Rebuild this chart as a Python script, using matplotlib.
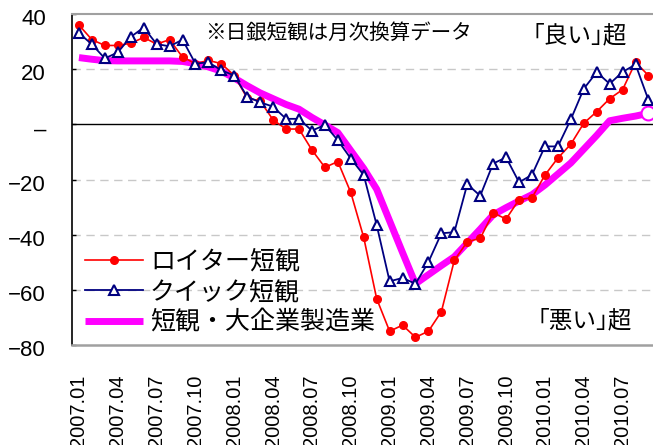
import matplotlib
matplotlib.use("Agg")
import matplotlib.pyplot as plt
from matplotlib.transforms import ScaledTranslation

plt.rcParams['font.family'] = ['Liberation Sans', 'Noto Sans CJK JP', 'DejaVu Sans']
JP = ['Noto Sans CJK JP', 'DejaVu Sans']

# monthly data, 2007.01 - 2010.09
reuters = [36, 30.7, 28.6, 28.6, 29.4, 31.5, 29.1, 30.7, 24.4, 22, 23.2, 22,
           17.7, 9.5, 8.5, 1.6, -1.7, -1.7, -9.3, -15.6, -13.5, -24.7, -41, -63.2,
           -75, -72.8, -77.2, -75, -67.9, -49.3, -42.6, -41.3, -32.1, -34.3, -27.3, -26.6,
           -18.4, -12.2, -7.2, 0.4, 4.6, 9.3, 12.6, 22.5, 17.7]
quick = [33.1, 29, 23.9, 26.1, 31.7, 35.1, 29.1, 28.3, 30.7, 22, 22.5, 19.6,
         17.7, 10, 8, 6.4, 2, 2, -2.3, -0.2, -5.8, -12.4, -18.4, -36.5,
         -56.9, -55.7, -57.8, -49.9, -39.5, -39.1, -21.7, -25.9, -14.2, -12, -21, -18.3,
         -8, -8, 1.8, 12.9, 18.9, 14.7, 19, 21.7, 8.8]
tankan = [24.2, 23.6, 23.1, 23, 23, 23, 23, 23, 22.8, 22, 20.8, 19.3,
          16.8, 14, 11.4, 9.3, 7.2, 5.5, 2.5, -0.2, -3, -9.5, -16, -23.5,
          -35, -46.5, -57.8, -54.5, -51.2, -48, -43, -38, -32.8, -30.2, -27.8, -25.5,
          -22, -18, -14, -9, -4, 1.3, 2.2, 3, 4]
month_labels = ['2007.01', '2007.04', '2007.07', '2007.10', '2008.01', '2008.04',
                '2008.07', '2008.10', '2009.01', '2009.04', '2009.07', '2009.10',
                '2010.01', '2010.04', '2010.07']
yticks = [-80, -60, -40, -20, 0, 20, 40]
ylabels = ['\u221280', '\u221260', '\u221240', '\u221220', '\u2013', '20', '40']

x = list(range(len(reuters)))

fig = plt.figure(figsize=(6.53, 4.45), dpi=100)
ax = fig.add_axes([0.111, 0.2247, 0.892, 0.7438])

ax.plot(x, tankan, color='#FF00FF', lw=5, solid_capstyle='butt', zorder=2,
        label='短観・大企業製造業')
ax.plot(x[-1], tankan[-1], 'o', ms=10, mfc='white', mec='#FF00FF', mew=1.5, zorder=2.5)
ax.plot(x, reuters, color='red', lw=1.2, marker='o', ms=5.5, zorder=3,
        label='ロイター短観')
ax.plot(x, quick, color='#000080', lw=1.3, marker='^', ms=7.5, mfc='white',
        mec='#000080', mew=1.5, zorder=4, label='クイック短観')

ax.set_xlim(-0.5, len(x) - 0.5)
ax.set_ylim(-80, 40)
ax.set_yticks(yticks)
ax.set_yticklabels(ylabels, fontsize=16)
ax.tick_params(axis='y', direction='in', length=3, width=1, color='black', pad=19)
shift = ScaledTranslation(0, -3 / 100, fig.dpi_scale_trans)
for t in ax.get_yticklabels():
    t.set_transform(t.get_transform() + shift)

ax.set_xticks(range(0, 3 * len(month_labels), 3))
ax.set_xticklabels(month_labels, rotation=90, fontsize=14.5)
ax.tick_params(axis='x', length=0, pad=21.5)

for v in [20, -20, -40, -60]:
    ax.axhline(v, color='#C8C8C8', lw=1, ls=(0, (6, 4)), zorder=1)
ax.axhline(0, color='black', lw=1, zorder=1)

ax.spines['right'].set_visible(False)
ax.spines['top'].set_color('#A0A0A0')
ax.spines['top'].set_linewidth(1.5)
ax.spines['bottom'].set_color('#A0A0A0')
ax.spines['bottom'].set_linewidth(1.8)
ax.spines['left'].set_color('black')
ax.spines['left'].set_linewidth(1.2)

ax.text(0.228, 0.943, '※日銀短観は月次換算データ', transform=ax.transAxes,
        fontsize=14.8, family=JP, va='center', ha='left')
ax.text(0.79, 0.933, '\uff62良い\uff63超', transform=ax.transAxes,
        fontsize=17, family=JP, va='center', ha='left')
ax.text(0.798, 0.073, '\uff62悪い\uff63超', transform=ax.transAxes,
        fontsize=17, family=JP, va='center', ha='left')

h, l = ax.get_legend_handles_labels()
order = [1, 2, 0]
ax.legend([h[i] for i in order], [l[i] for i in order], loc='upper left',
          bbox_to_anchor=(0.0215, 0.2915), frameon=False, borderpad=0,
          borderaxespad=0, handlelength=2.32, handletextpad=0.28,
          labelspacing=0.18, prop={'family': JP, 'size': 18})

fig.savefig('out.png', dpi=100)
